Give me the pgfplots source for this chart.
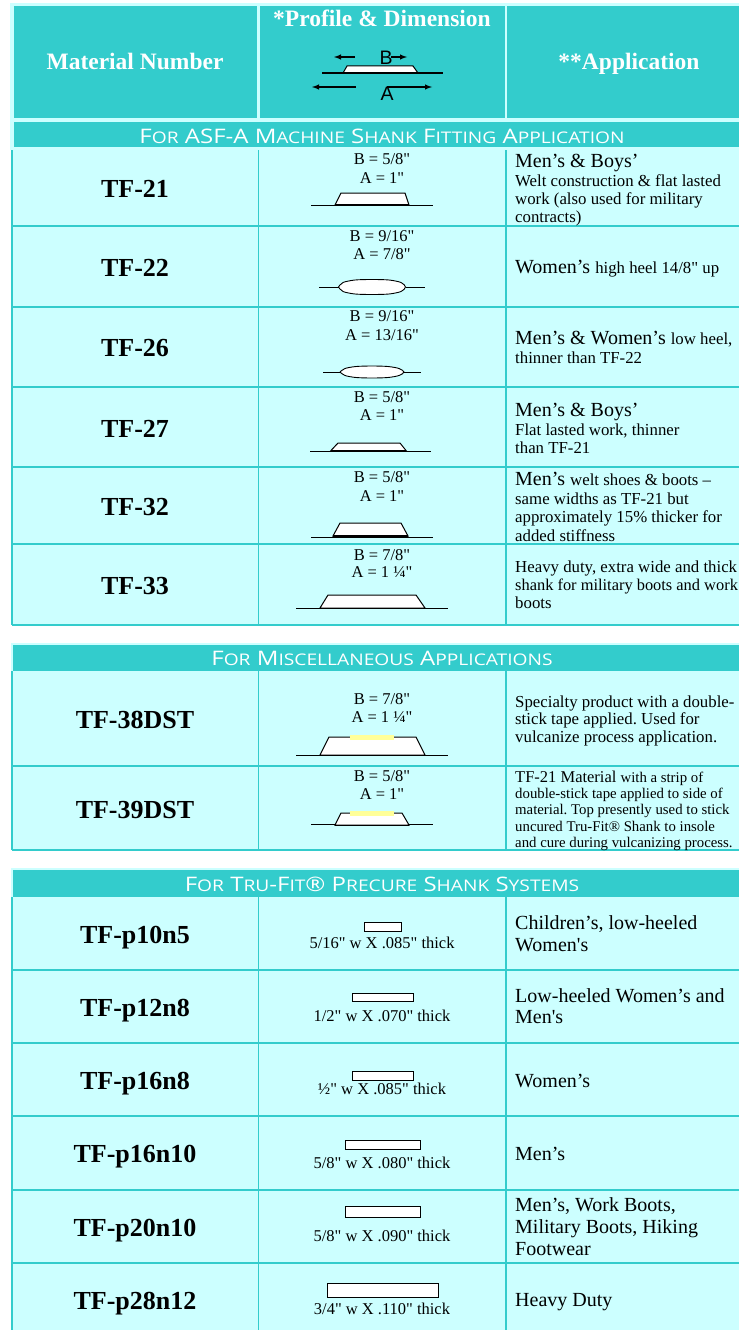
\documentclass[border=0pt]{standalone}
\usepackage{pgfplots}
\pgfplotsset{compat=1.18}
\usepackage{fontspec}
\newfontfamily\serf{Liberation Serif}
\newfontfamily\sanf{Liberation Sans}
\newfontfamily\capf[FakeStretch=1.2]{Open Sans}
\definecolor{teal1}{HTML}{33CCCC}
\definecolor{pale}{HTML}{CCFFFF}
\definecolor{tape}{HTML}{FFFF99}
% all coordinates are reference pixels, y counted from the top
\newcommand{\area}[5]{\addplot[fill=#5,draw=none] coordinates {(#1,#2) (#3,#2) (#3,#4) (#1,#4)} --cycle;}
\newcommand{\hl}[3]{\addplot[draw=teal1,line width=1.4pt] coordinates {(#1,#3) (#2,#3)};}
\newcommand{\vl}[3]{\addplot[draw=teal1,line width=1.4pt] coordinates {(#1,#2) (#1,#3)};}
\newcommand{\trap}[7]{% x0 x1 bottom, t0 t1 top, ybottom ytop
  \addplot[fill=white,draw=black,line width=1pt] coordinates {(#1,#5) (#3,#6) (#4,#6) (#2,#5)} --cycle;
  \addplot[draw=black,line width=#7] coordinates {(#1,#5) (#2,#5)};}
\newcommand{\baseln}[3]{\addplot[draw=black,line width=1pt] coordinates {(#1,#3) (#2,#3)};}
\newcommand{\rct}[4]{\addplot[fill=white,draw=black,line width=0.9pt] coordinates {(#1,#3) (#2,#3) (#2,#4) (#1,#4)} --cycle;}
\newcommand{\fs}[1]{\fontsize{#1}{#1}\selectfont}
\newcommand{\matn}[2]{\node[anchor=base,inner sep=0pt] at (axis cs:135,#1) {\serf\bfseries\fs{26}#2};}
\newcommand{\dimn}[2]{\node[anchor=base,inner sep=0pt] at (axis cs:382,#1) {\serf\fs{16.5}#2};}
\newcommand{\app}[3]{\node[anchor=base west,inner sep=0pt] at (axis cs:515,#1) {\serf\frenchspacing\fs{#2}#3};}
\newcommand{\smc}[1]{{\fs{16}#1}}
\newcommand{\bandt}[2]{\node[anchor=base,inner sep=0pt,text=white] at (axis cs:382,#1) {\capf\fs{20}#2};}
\begin{document}
\begin{tikzpicture}
\clip (0,0) rectangle (739pt,1330pt);
\begin{axis}[
    scale only axis,
    width=739pt,
    height=1330pt,
    xmin=0, xmax=739,
    ymin=0, ymax=1330,
    y dir=reverse,
    hide axis,
    clip=false,
]
% pale frames and cell fills
\area{10}{3}{739}{150}{pale}
\area{12}{150}{739}{625}{pale}
\area{11}{643}{739}{850}{pale}
\area{11}{868}{739}{1330}{pale}
% header cells and bands
\area{14}{6}{257}{118}{teal1}
\area{260}{6}{505}{118}{teal1}
\area{507}{6}{739}{118}{teal1}
\area{14}{122}{739}{147}{teal1}
\area{13}{645}{739}{671}{teal1}
\area{13}{870}{739}{897}{teal1}
% grid lines
\vl{12}{150}{625} \vl{258.5}{150}{625} \vl{506}{150}{625}
\vl{12}{671}{850} \vl{258.5}{671}{850} \vl{506}{671}{850}
\vl{12}{897}{1330} \vl{258.5}{897}{1330} \vl{506}{897}{1330}
\hl{12}{739}{226} \hl{12}{739}{307} \hl{12}{739}{387} \hl{12}{739}{467} \hl{12}{739}{544} \hl{12}{739}{625}
\hl{12}{739}{766} \hl{12}{739}{850}
\hl{12}{739}{970} \hl{12}{739}{1043} \hl{12}{739}{1116} \hl{12}{739}{1190} \hl{12}{739}{1263}
% header drawing
\baseln{322}{443}{73}
\trap{343}{418}{347}{413}{73}{66}{1pt}
\addplot[draw=black,line width=1.4pt,-latex] coordinates {(355,57) (334,57)};
\addplot[draw=black,line width=1.4pt,-latex] coordinates {(391,57) (407,57)};
\addplot[draw=black,line width=1.4pt,-latex] coordinates {(356,87) (312,87)};
\addplot[draw=black,line width=1.4pt,-latex] coordinates {(387,87) (432,87)};
\node[anchor=base,inner sep=0pt] at (axis cs:386,64) {\sanf\fs{19.5}B};
\node[anchor=base,inner sep=0pt] at (axis cs:387,100) {\sanf\fs{19.5}A};
% profiles
\baseln{311}{433}{205} \trap{335}{409}{341}{405}{205}{193}{1.8pt}
\addplot[smooth,fill=white,draw=black,line width=0.9pt] coordinates {(338.5,287) (343,282.5) (355,280) (372,279.5) (389,280) (401,282.5) (405.5,287) (401,291.5) (389,294) (372,294.5) (355,294) (343,291.5) (338.5,287)};
\addplot[draw=black,line width=1pt] coordinates {(319,287) (338.5,287)};
\addplot[draw=black,line width=1pt] coordinates {(405.5,287) (425,287)};
\addplot[smooth,fill=white,draw=black,line width=0.9pt] coordinates {(340,372) (345,368.5) (356,366.5) (372,366) (388,366.5) (399,368.5) (404,372) (399,375.5) (388,377.5) (372,378) (356,377.5) (345,375.5) (340,372)};
\addplot[draw=black,line width=1pt] coordinates {(323,372) (340,372)};
\addplot[draw=black,line width=1pt] coordinates {(404,372) (421,372)};
\baseln{310}{431}{451} \trap{331}{406}{338}{400}{450.5}{443}{1.8pt}
\baseln{311}{433}{537} \trap{333}{408}{340}{401}{536}{523}{1.4pt}
\baseln{296}{448}{608} \trap{320}{425}{328}{416}{608}{595}{1pt}
\baseln{296}{448}{755} \trap{320}{425}{329}{416}{755}{737}{1pt}
\area{350}{735}{394}{740}{tape}
\baseln{311}{433}{824} \trap{335}{409}{341}{402}{825}{813}{1pt}
\area{350}{811}{394}{816}{tape}
\rct{364}{401}{922}{931}
\rct{352}{413}{993}{1001}
\rct{352}{413}{1071}{1080}
\rct{345}{420}{1140}{1149}
\rct{345}{420}{1206}{1217}
\rct{327}{438}{1283}{1297}
% header text
\node[anchor=base,inner sep=0pt,text=white] at (axis cs:135,70) {\serf\bfseries\fs{23.5}Material Number};
\node[anchor=base,inner sep=0pt,text=white] at (axis cs:382,27) {\serf\bfseries\fs{23.5}*Profile \& Dimension};
\node[anchor=base,inner sep=0pt,text=white] at (axis cs:629,70) {\serf\bfseries\fs{23.5}**Application};
\bandt{143}{F\smc{OR} ASF-A M\smc{ACHINE} S\smc{HANK} F\smc{ITTING} A\smc{PPLICATION}}
\bandt{665}{F\smc{OR} M\smc{ISCELLANEOUS} A\smc{PPLICATIONS}}
\bandt{891}{F\smc{OR} T\smc{RU}-F\smc{IT}® P\smc{RECURE} S\smc{HANK} S\smc{YSTEMS}}
% material numbers
\matn{197}{TF-21} \matn{276}{TF-22} \matn{356}{TF-26} \matn{437}{TF-27} \matn{515}{TF-32} \matn{594}{TF-33}
\matn{728}{TF-38DST} \matn{818}{TF-39DST}
\matn{943}{TF-p10n5} \matn{1016}{TF-p12n8} \matn{1089}{TF-p16n8} \matn{1162}{TF-p16n10} \matn{1236}{TF-p20n10} \matn{1309}{TF-p28n12}
% dimensions
\dimn{164}{B = 5/8"} \dimn{183}{A = 1"}
\dimn{241}{B = 9/16"} \dimn{259}{A = 7/8"}
\dimn{321}{B = 9/16"} \dimn{340}{A = 13/16"}
\dimn{402}{B = 5/8"} \dimn{420}{A = 1"}
\dimn{482}{B = 5/8"} \dimn{501}{A = 1"}
\dimn{560}{B = 7/8"} \dimn{577}{A = 1 ¼"}
\dimn{704}{B = 7/8"} \dimn{722}{A = 1 ¼"}
\dimn{781}{B = 5/8"} \dimn{799}{A = 1"}
\dimn{948}{5/16" w X .085" thick}
\dimn{1021}{1/2" w X .070" thick}
\dimn{1094}{½" w X .085" thick}
\dimn{1168}{5/8" w X .080" thick}
\dimn{1241}{5/8" w X .090" thick}
\dimn{1314}{3/4" w X .110" thick}
% applications
\app{167}{20}{Men’s \& Boys’}
\app{186}{16.8}{Welt construction \& flat lasted}
\app{204}{16.8}{work (also used for military}
\app{222}{16.8}{contracts)}
\app{273}{20}{Women’s {\fs{16.8}high heel 14/8" up}}
\app{344}{20}{Men’s \& Women’s {\fs{16.8}low heel,}}
\app{363}{16.8}{thinner than TF-22}
\app{416}{20}{Men’s \& Boys’}
\app{435}{16.8}{Flat lasted work, thinner}
\app{453}{16.8}{than TF-21}
\app{485}{20}{Men’s {\fs{16.8}welt shoes \& boots –}}
\app{504}{16.8}{same widths as TF-21 but}
\app{522}{16.8}{approximately 15\% thicker for}
\app{541}{16.8}{added stiffness}
\app{572}{16.8}{Heavy duty, extra wide and thick}
\app{590}{16.4}{shank for military boots and work}
\app{608}{16.8}{boots}
\app{707}{16.8}{Specialty product with a double-}
\app{724}{16.8}{stick tape applied. Used for}
\app{742}{16.8}{vulcanize process application.}
\app{782}{16.5}{TF-21 Material {\fs{14.8}with a strip of}}
\app{798}{14.8}{double-stick tape applied to side of}
\app{814}{14.8}{material. Top presently used to stick}
\app{831}{14.8}{uncured Tru-Fit® Shank to insole}
\app{847}{14.8}{and cure during vulcanizing process.}
\app{929}{20}{Children’s, low-heeled}
\app{951}{20}{Women's}
\app{1002}{20}{Low-heeled Women’s and}
\app{1023}{20}{Men's}
\app{1087}{20}{Women’s}
\app{1160}{20}{Men’s}
\app{1211}{20}{Men’s, Work Boots,}
\app{1233}{20}{Military Boots, Hiking}
\app{1255}{20}{Footwear}
\app{1306}{20}{Heavy Duty}
\end{axis}
\end{tikzpicture}
\end{document}
